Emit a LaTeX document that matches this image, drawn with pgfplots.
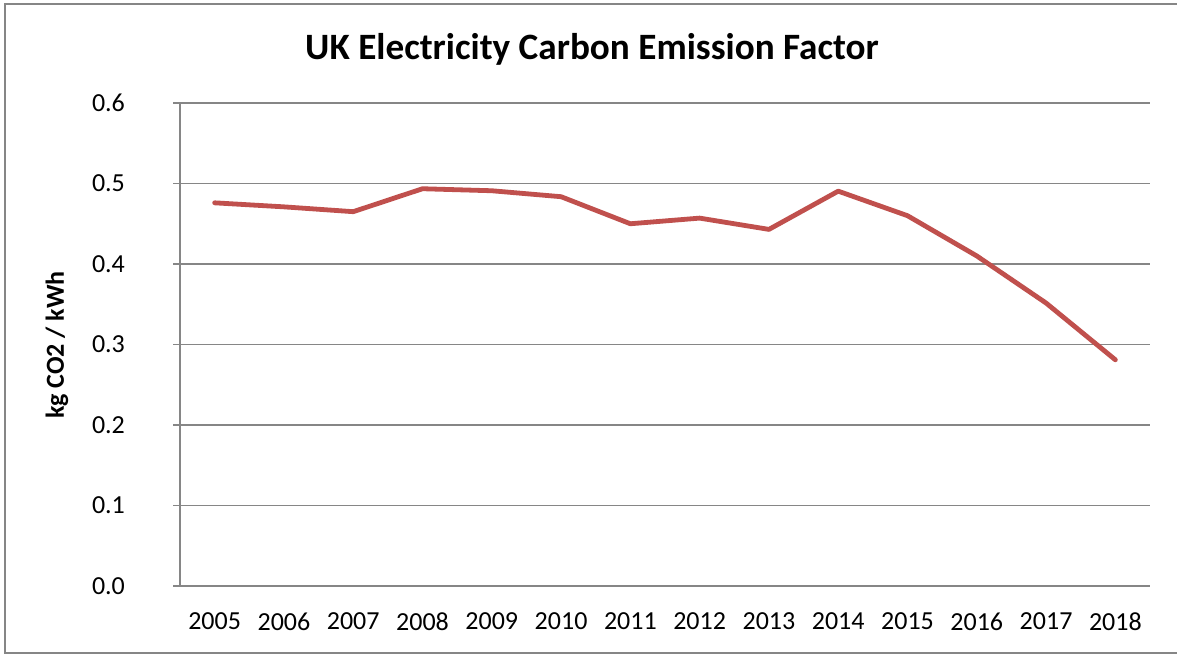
\documentclass[border=0pt]{standalone}
\usepackage{pgfplots}
\pgfplotsset{compat=1.18}
\usepackage{fontspec}
\setmainfont{Carlito}

\definecolor{gridgray}{RGB}{134,134,134}
\definecolor{seriesred}{RGB}{192,80,77}

\begin{document}
\begin{tikzpicture}
  % page area
  \useasboundingbox (0,0) rectangle (588.5pt,327.5pt);
  \fill[white] (0,0) rectangle (588.5pt,327.5pt);
  % chart frame
  \draw[gridgray, line width=0.7pt] (2.5pt,1pt) rectangle (600pt,325.5pt);

  \begin{axis}[
    at={(90pt,34.5pt)}, anchor=south west,
    width=485pt, height=241.5pt, scale only axis,
    xmin=0.5, xmax=14.5,
    ymin=0, ymax=0.6,
    axis x line=bottom, axis y line=left,
    axis line style={-, gridgray, line width=0.7pt},
    ytick={0,0.1,0.2,0.3,0.4,0.5,0.6},
    yticklabel style={/pgf/number format/fixed, /pgf/number format/fixed zerofill,
      /pgf/number format/precision=1, xshift=-20.5pt},
    /pgf/number format/assume math mode=true,
    ymajorgrids,
    grid style={gridgray, line width=0.7pt},
    tick style={gridgray, line width=0.7pt},
    tick align=outside,
    major tick length=3.5pt,
    xtick={1,...,14},
    xticklabels={2005,2006,2007,2008,2009,2010,2011,2012,2013,2014,2015,2016,2017,2018},
    x tick style={draw=none},
    xticklabel style={yshift=-6.5pt},
    extra x ticks={0.5,1.5,...,14.5},
    extra x tick labels={},
    extra x tick style={tick style={gridgray, line width=0.7pt}, major tick length=4pt},
    tick label style={font=\fontsize{13}{15}\selectfont, text=black},
  ]
    \addplot[seriesred, line width=2.4pt, line join=round, line cap=round] table {
      x  y
      1  0.476
      2  0.471
      3  0.465
      4  0.4935
      5  0.491
      6  0.4836
      7  0.450
      8  0.457
      9  0.443
      10 0.4905
      11 0.460
      12 0.410
      13 0.3515
      14 0.281
    };
  \end{axis}

  \node[font=\fontsize{18.6}{22}\selectfont\bfseries] at (296pt,303pt) {UK Electricity Carbon Emission Factor};
  \node[font=\fontsize{13}{15}\selectfont\bfseries, rotate=90] at (28.5pt,155pt) {kg CO2 / kWh};
\end{tikzpicture}
\end{document}
